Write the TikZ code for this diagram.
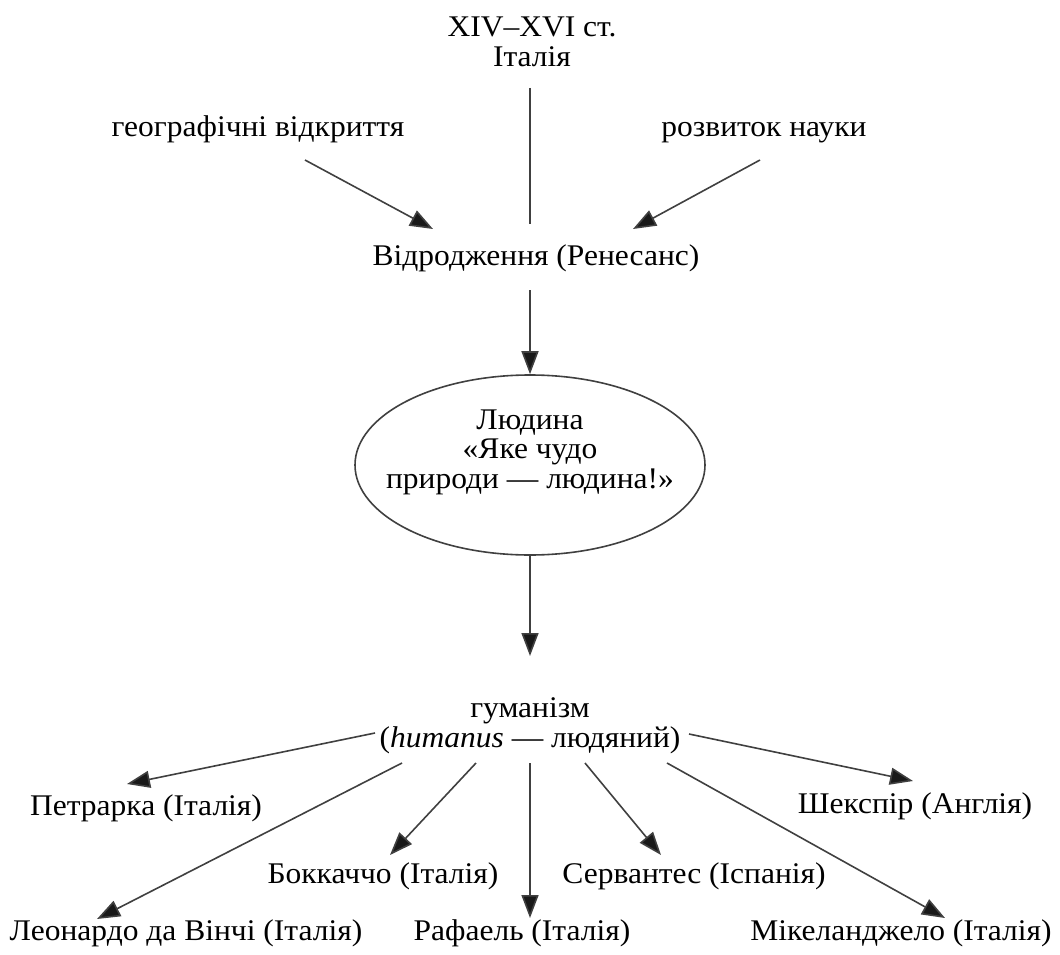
\documentclass[tikz,border=0pt]{standalone}
\usepackage{fontspec}
\setmainfont{Liberation Serif}[FakeStretch=1.05]
\usetikzlibrary{arrows.meta,shapes.geometric}
\begin{document}
\begin{tikzpicture}[x=1pt,y=-1pt,
  lbl/.style={inner sep=0pt,font=\fontsize{30}{30}\selectfont,align=center},
  conn/.style={line width=1.6pt,draw=black!75},
  arr/.style={conn,-{Triangle[length=23pt,width=17pt,fill=black!90]}}]
\useasboundingbox (0,0) rectangle (1060,955);
% top texts
\node[lbl] (time) at (532,42) {XIV–XVI ст.\\Італія};
\node[lbl,anchor=base] (geo) at (258,137) {географічні відкриття};
\node[lbl,anchor=base] (sci) at (764,137) {розвиток науки};
\node[lbl,anchor=base] (ren) at (536,265) {Відродження (Ренесанс)};
% ellipse
\node[draw,ellipse,line width=1.6pt,draw=black!75,minimum width=350pt,minimum height=180pt] (man) at (530,465) {};
\node[lbl,font=\fontsize{30}{29.5}\selectfont] (mantext) at (530,452) {Людина\\«Яке чудо\\природи — людина!»};
% humanism
\node[lbl] (hum) at (530,726) {гуманізм\\(\textit{humanus} — людяний)};
% names
\node[lbl,anchor=base] (pet) at (146,815) {Петрарка (Італія)};
\node[lbl,anchor=base] (bok) at (383,883) {Боккаччо (Італія)};
\node[lbl,anchor=base] (leo) at (186,940) {Леонардо да Вінчі (Італія)};
\node[lbl,anchor=base] (raf) at (522,940) {Рафаель (Італія)};
\node[lbl,anchor=base] (ser) at (694,883) {Сервантес (Іспанія)};
\node[lbl,anchor=base] (she) at (915,813) {Шекспір (Англія)};
\node[lbl,anchor=base] (mik) at (901,940) {Мікеланджело (Італія)};
% connector end points
\coordinate (t0) at (530,88);  \coordinate (t1) at (530,224);
\coordinate (g0) at (305,160); \coordinate (g1) at (433,229);
\coordinate (s0) at (760,160); \coordinate (s1) at (633,229);
\coordinate (r0) at (530,290);
\coordinate (h1) at (530,656);
\coordinate (p0) at (375,733); \coordinate (p1) at (127,784);
\coordinate (l0) at (402,763); \coordinate (l1) at (97,919);
\coordinate (b0) at (476,763); \coordinate (b1) at (390,855);
\coordinate (f0) at (530,763); \coordinate (f1) at (530,918);
\coordinate (c0) at (585,763); \coordinate (c1) at (661,855);
\coordinate (k0) at (689,734); \coordinate (k1) at (913,781);
\coordinate (m0) at (667,763); \coordinate (m1) at (945,918);
% connectors
\draw[conn] (t0) -- (t1);
\draw[arr] (g0) -- (g1);
\draw[arr] (s0) -- (s1);
\draw[arr] (r0) -- (man.north);
\draw[arr] (man.south) -- (h1);
\draw[arr] (p0) -- (p1);
\draw[arr] (l0) -- (l1);
\draw[arr] (b0) -- (b1);
\draw[arr] (f0) -- (f1);
\draw[arr] (c0) -- (c1);
\draw[arr] (k0) -- (k1);
\draw[arr] (m0) -- (m1);
\end{tikzpicture}
\end{document}
